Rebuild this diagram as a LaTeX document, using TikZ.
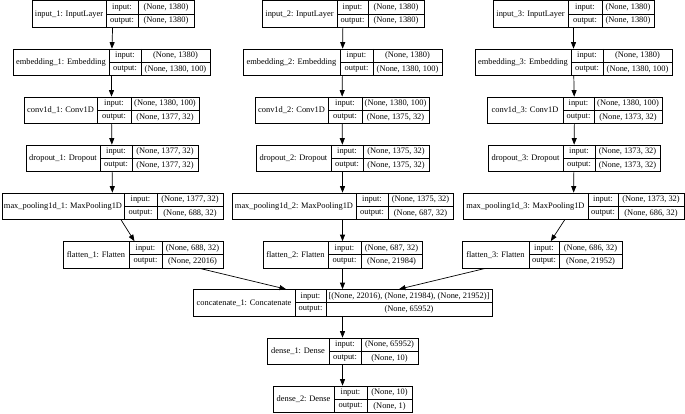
\documentclass[tikz,border=0pt]{standalone}
\usepackage{fontspec}
\setmainfont{Liberation Serif}
\usetikzlibrary{fit,arrows.meta}
\tikzset{
  box/.style={draw, line width=0.7pt, inner sep=0pt},
  sep/.style={line width=0.7pt},
  txt/.style={inner sep=0pt, font=\fontsize{8.4}{10}\selectfont},
  conn/.style={line width=0.7pt, -{Triangle[length=6.5pt,width=5pt]}},
}
% #1 name, #2 x1, #3 d1, #4 d2, #5 x2, #6 top, #7 label, #8 input, #9 output
\newcommand{\klayer}[9]{%
  \node[box, fit={(#2,#6) (#5,{#6+26.5})}] (#1) {};
  \draw[sep] (#3,#6) -- (#3,{#6+26.5});
  \draw[sep] (#4,#6) -- (#4,{#6+26.5});
  \draw[sep] (#3,{#6+13.25}) -- (#5,{#6+13.25});
  \node[txt] (#1-l) at ({(#2+#3)/2},{#6+13.5}) {#7};
  \node[txt] (#1-a) at ({(#3+#4)/2},{#6+6.8}) {input:};
  \node[txt] (#1-b) at ({(#4+#5)/2},{#6+6.8}) {#8};
  \node[txt] (#1-c) at ({(#3+#4)/2},{#6+20}) {output:};
  \node[txt] (#1-d) at ({(#4+#5)/2},{#6+20}) {#9};
}
\begin{document}
\begin{tikzpicture}[x=1pt,y=-1pt]
\fill[white] (0,0) rectangle (685,414);
\useasboundingbox (0,0) rectangle (685,414);
% column 1
\klayer{in1}{32}{106}{138}{194}{0.8}{input\_1: InputLayer}{(None, 1380)}{(None, 1380)}
\klayer{em1}{13}{109}{141}{210}{49}{embedding\_1: Embedding}{(None, 1380)}{(None, 1380, 100)}
\klayer{cv1}{24}{97}{131}{199}{97}{conv1d\_1: Conv1D}{(None, 1380, 100)}{(None, 1377, 32)}
\klayer{dr1}{26}{100}{132}{198}{145}{dropout\_1: Dropout}{(None, 1377, 32)}{(None, 1377, 32)}
\klayer{mp1}{2}{124}{157}{223}{193}{max\_pooling1d\_1: MaxPooling1D}{(None, 1377, 32)}{(None, 688, 32)}
\klayer{fl1}{63}{129}{162}{223}{241.5}{flatten\_1: Flatten}{(None, 688, 32)}{(None, 22016)}
% column 2
\klayer{in2}{262}{337}{368}{424}{0.8}{input\_2: InputLayer}{(None, 1380)}{(None, 1380)}
\klayer{em2}{243}{340}{373}{442}{49}{embedding\_2: Embedding}{(None, 1380)}{(None, 1380, 100)}
\klayer{cv2}{255}{328}{362}{429}{97}{conv1d\_2: Conv1D}{(None, 1380, 100)}{(None, 1375, 32)}
\klayer{dr2}{256}{331}{363}{429}{145}{dropout\_2: Dropout}{(None, 1375, 32)}{(None, 1375, 32)}
\klayer{mp2}{232}{356}{388}{453}{193}{max\_pooling1d\_2: MaxPooling1D}{(None, 1375, 32)}{(None, 687, 32)}
\klayer{fl2}{263}{328}{361}{422}{241.5}{flatten\_2: Flatten}{(None, 687, 32)}{(None, 21984)}
% column 3
\klayer{in3}{493}{568}{602}{654}{0.8}{input\_3: InputLayer}{(None, 1380)}{(None, 1380)}
\klayer{em3}{475}{571}{603}{672}{49}{embedding\_3: Embedding}{(None, 1380)}{(None, 1380, 100)}
\klayer{cv3}{487}{563}{594}{662}{97}{conv1d\_3: Conv1D}{(None, 1380, 100)}{(None, 1373, 32)}
\klayer{dr3}{488}{563}{595}{660}{145}{dropout\_3: Dropout}{(None, 1373, 32)}{(None, 1373, 32)}
\klayer{mp3}{463}{588}{618}{684}{193}{max\_pooling1d\_3: MaxPooling1D}{(None, 1373, 32)}{(None, 686, 32)}
\klayer{fl3}{462}{529}{559}{622}{241.5}{flatten\_3: Flatten}{(None, 686, 32)}{(None, 21952)}
% bottom
\klayer{cat}{193}{295}{326}{492}{289.5}{concatenate\_1: Concatenate}{[(None, 22016), (None, 21984), (None, 21952)]}{(None, 65952)}
\klayer{de1}{267}{329}{361}{418}{338}{dense\_1: Dense}{(None, 65952)}{(None, 10)}
\klayer{de2}{273}{334}{367}{412}{386}{dense\_2: Dense}{(None, 10)}{(None, 1)}
% connectors
\foreach \c in {1,2,3} {
  \draw[conn] (in\c) -- (em\c);
  \draw[conn] (em\c) -- (cv\c);
  \draw[conn] (cv\c) -- (dr\c);
  \draw[conn] (dr\c) -- (mp\c);
  \draw[conn] (mp\c) -- (fl\c);
  \draw[conn] (fl\c) -- (cat);
}
\draw[conn] (cat) -- (de1);
\draw[conn] (de1) -- (de2);
\end{tikzpicture}
\end{document}
